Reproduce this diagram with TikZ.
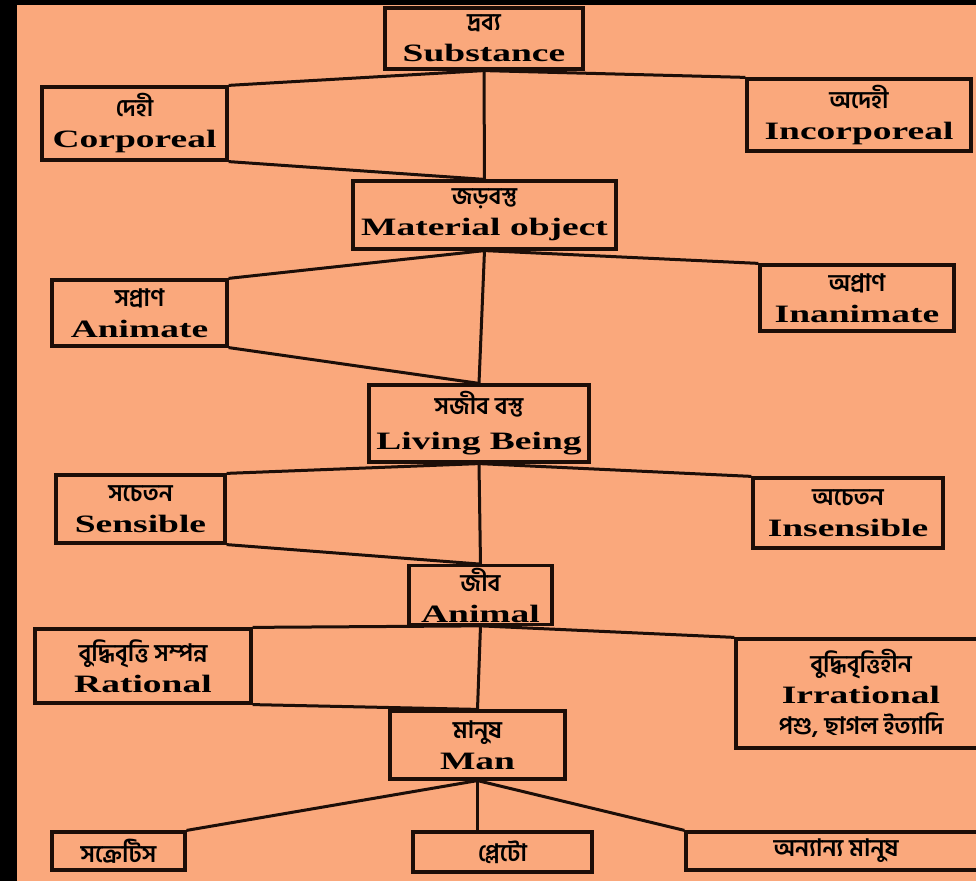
\documentclass[tikz,border=0pt]{standalone}
\usepackage{fontspec}
\setmainfont{Liberation Serif}[FakeStretch=1.5]
\newfontfamily\bnfont[Script=Bengali]{Hind Siliguri}
\newcommand{\bn}[1]{{\bnfont\fontsize{12}{15}\selectfont #1}}
\definecolor{salmon}{RGB}{250,168,124}
\definecolor{ink}{RGB}{28,14,8}

\begin{document}
\begin{tikzpicture}[x=0.5pt,y=-0.5pt]
    \tikzstyle{box}=[draw=ink,line width=1.6pt,fill=salmon,align=center,inner sep=1pt,font=\bfseries\fontsize{12.5}{15.5}\selectfont]
    \tikzstyle{every node}=[box]
    \tikzstyle{link}=[draw=ink,line width=1.5pt]

    \useasboundingbox (0,0) rectangle (976,881);
    \clip (0,0) rectangle (976,881);
    \fill[salmon] (0,0) rectangle (976,881);
    \fill[black] (0,0) rectangle (17,881);
    \fill[black] (0,0) rectangle (976,5);

    \node (sub) at (484,38.5) [minimum width=99pt,minimum height=30.5pt] {\bn{দ্রব্য}\\Substance};
    \node (corp) at (134.5,123.5) [minimum width=92.5pt,minimum height=36.5pt] {\bn{দেহী}\\Corporeal};
    \node (incorp) at (859,115) [minimum width=112pt,minimum height=36pt] {\bn{অদেহী}\\Incorporeal};
    \node (mat) at (484.5,215) [minimum width=131.5pt,minimum height=34pt] {\bn{জড়বস্তু}\\Material object};
    \node (anim) at (139.5,313) [minimum width=87.5pt,minimum height=33pt] {\bn{সপ্রাণ}\\Animate};
    \node (inanim) at (857,298) [minimum width=97pt,minimum height=33pt] {\bn{অপ্রাণ}\\Inanimate};
    \node (living) at (479,423.5) [minimum width=110pt,minimum height=38.5pt] {\bn{সজীব বস্তু}\\[2pt]Living Being};
    \node (sens) at (140.5,509) [minimum width=84.5pt,minimum height=34pt] {\bn{সচেতন}\\Sensible};
    \node (insens) at (848,513) [minimum width=95pt,minimum height=35pt] {\bn{অচেতন}\\Insensible};
    \node (animal) at (480.5,595) [minimum width=71.5pt,minimum height=28pt] {\bn{জীব}\\Animal};
    \node (rat) at (143,666) [minimum width=108pt,minimum height=37pt] {\bn{বুদ্ধিবৃত্তি সম্পন্ন}\\Rational};
    \node (irrat) at (861,693.5) [minimum width=125pt,minimum height=54.5pt] {\bn{বুদ্ধিবৃত্তিহীন}\\Irrational\\\bn{পশু, ছাগল ইত্যাদি}};
    \node (man) at (477.5,745) [minimum width=87.5pt,minimum height=34pt] {\bn{মানুষ}\\Man};
    \node (socr) at (118.5,851) [minimum width=66.5pt,minimum height=19pt] {\bn{সক্রেটিস}};
    \node (plato) at (502.5,852) [minimum width=89.5pt,minimum height=20pt] {\bn{প্লেটো}};
    \node (others) at (836,851) [minimum width=150pt,minimum height=19pt] {\bn{অন্যান্য মানুষ}};

    % each level: parent, left child, right child, next parent
    \foreach \p/\l/\r/\c in {sub/corp/incorp/mat, mat/anim/inanim/living, living/sens/insens/animal, animal/rat/irrat/man}{
        \draw[link] (\p.south) -- (\c.north);
        \draw[link] (\p.south) -- (\l.north east);
        \draw[link] (\p.south) -- (\r.north west);
        \draw[link] (\l.south east) -- (\c.north);
    }
    \draw[link] (man.south) -- (socr.north east);
    \draw[link] (man.south) -- (man.south |- plato.north);
    \draw[link] (man.south) -- (others.north west);
\end{tikzpicture}
\end{document}
